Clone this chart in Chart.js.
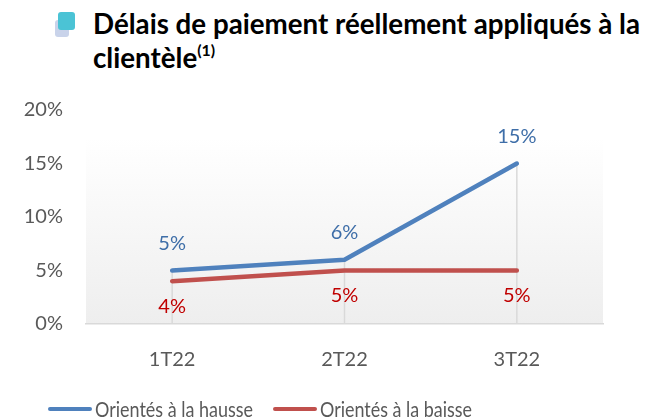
<!DOCTYPE html>
<html>
<head>
<meta charset="utf-8">
<script src="https://cdn.jsdelivr.net/npm/chart.js@4/dist/chart.umd.min.js"></script>
<style>
  body { margin: 0; background: #fff; }
  #wrap { position: relative; width: 645px; height: 417px; overflow: hidden; }
  #myChart { position: absolute; left: 0; top: 0; }
  .title { position: absolute; left: 93px; top: 6px; font-family: Lato, sans-serif;
           font-weight: bold; font-size: 28px; line-height: 34px; color: #000; white-space: nowrap; }
  .title span { display: inline-block; transform-origin: 0 50%; }
  .title sup { font-size: 16px; line-height: 0; vertical-align: 12px; }
  .icon-back { position: absolute; left: 55px; top: 20px; width: 14px; height: 17px; background: #c9d3ea; border-radius: 3px; }
  .icon { position: absolute; left: 58px; top: 12px; width: 17px; height: 18px; background: #4bc3d5; border-radius: 3px; }
  .legend { position: absolute; top: 396px; left: 48px; font-family: Lato, sans-serif;
            font-size: 21px; color: #595959; white-space: nowrap; }
  .legend .item { position: absolute; top: 0; display: flex; align-items: center; }
  .legend .swatch { width: 44px; height: 4px; border-radius: 2px; margin-right: 3px; }
  .legend .txt { display: inline-block; transform-origin: 0 50%; }
</style>
</head>
<body>
<div id="wrap">
  <div class="icon-back"></div>
  <div class="icon"></div>
  <div class="title"><span id="t1">Délais de paiement réellement appliqués à la</span><br><span>clientèle<sup>(1)</sup></span></div>
  <canvas id="myChart" width="645" height="417"></canvas>
  <div class="legend" id="legend"></div>
</div>
<script>
const quarters = ['1T22', '2T22', '3T22'];
const hausse = [5, 6, 15];
const baisse = [4, 5, 5];
const seriesNames = ['Orientés à la hausse', 'Orientés à la baisse'];
const yMin = 0, yMax = 20, yStep = 5;

const fontFamily = 'Lato, sans-serif';

// squeeze the title a bit, the original font is narrower
const t1 = document.getElementById('t1');
const sx = 547 / t1.getBoundingClientRect().width;
document.querySelectorAll('.title span').forEach(s => s.style.transform = 'scaleX(' + sx + ')');

// plot background, light grey fading to white at the top
const bgPlugin = {
  id: 'bg',
  beforeDraw(chart) {
    const a = chart.chartArea, c = chart.ctx;
    const g = c.createLinearGradient(0, a.top, 0, a.bottom);
    g.addColorStop(0, '#ffffff');
    g.addColorStop(0.13, '#ffffff');
    g.addColorStop(1, '#eeeeee');
    c.save();
    c.fillStyle = g;
    c.fillRect(a.left, a.top, a.right - a.left, a.bottom - a.top);
    c.restore();
  }
};

// excel style drop lines from highest point down to the axis
const dropLines = {
  id: 'dropLines',
  beforeDatasetsDraw(chart) {
    const c = chart.ctx, x = chart.scales.x, y = chart.scales.y;
    c.save();
    c.strokeStyle = '#d9d9d9';
    c.lineWidth = 1.5;
    quarters.forEach((q, i) => {
      const top = Math.max(...chart.data.datasets.map(d => d.data[i]));
      const px = x.getPixelForValue(i);
      c.beginPath();
      c.moveTo(px, y.getPixelForValue(top));
      c.lineTo(px, y.bottom);
      c.stroke();
    });
    c.restore();
  }
};

// value labels, above for first series, below for second
const valueLabels = {
  id: 'valueLabels',
  afterDatasetsDraw(chart) {
    const c = chart.ctx;
    c.save();
    c.font = '20px ' + fontFamily;
    c.textAlign = 'center';
    c.textBaseline = 'middle';
    chart.data.datasets.forEach((ds, di) => {
      const meta = chart.getDatasetMeta(di);
      c.fillStyle = ds.labelColor;
      meta.data.forEach((pt, i) => {
        c.fillText(ds.data[i] + '%', pt.x, pt.y + ds.labelOffset);
      });
    });
    c.restore();
  }
};

const ctx = document.getElementById('myChart').getContext('2d');

const chart = new Chart(ctx, {
  type: 'line',
  data: {
    labels: quarters,
    datasets: [{
      label: seriesNames[0],
      data: hausse,
      borderColor: '#4f81bd',
      backgroundColor: '#4f81bd',
      labelColor: '#3e6ea8',
      labelOffset: -27,
      borderWidth: 4.5,
      borderCapStyle: 'round',
      borderJoinStyle: 'round',
      pointRadius: 0,
      tension: 0
    }, {
      label: seriesNames[1],
      data: baisse,
      borderColor: '#c0504d',
      backgroundColor: '#c0504d',
      labelColor: '#c00000',
      labelOffset: 25,
      borderWidth: 4.5,
      borderCapStyle: 'round',
      borderJoinStyle: 'round',
      pointRadius: 0,
      tension: 0
    }]
  },
  options: {
    responsive: false,
    animation: false,
    layout: { padding: { top: 110, right: 42, bottom: 43, left: 0 } },
    plugins: {
      legend: { display: false },
      tooltip: { enabled: false }
    },
    scales: {
      x: {
        offset: true,
        grid: { display: false },
        border: { color: '#d9d9d9', width: 1.5 },
        ticks: { color: '#595959', font: { family: fontFamily, size: 20 }, padding: 16 },
        afterFit: s => { s.height = 50; }
      },
      y: {
        min: yMin,
        max: yMax,
        grid: { display: false, drawTicks: false },
        border: { display: false },
        ticks: { stepSize: yStep, color: '#595959', font: { family: fontFamily, size: 20 }, padding: 23,
                 callback: v => v + '%' },
        afterFit: s => { s.width = 86; }
      }
    }
  },
  plugins: [bgPlugin, dropLines, valueLabels]
});

// html legend built from the datasets, items placed like the original
const legendEl = document.getElementById('legend');
const legendX = [0, 225];
const legendTextW = [158, 152];
chart.data.datasets.forEach((ds, i) => {
  const item = document.createElement('div');
  item.className = 'item';
  item.style.left = legendX[i] + 'px';
  item.innerHTML = '<span class="swatch" style="background:' + ds.borderColor + '"></span><span class="txt">' + ds.label + '</span>';
  legendEl.appendChild(item);
  const txt = item.querySelector('.txt');
  txt.style.transform = 'scaleX(' + (legendTextW[i] / txt.getBoundingClientRect().width) + ')';
});
</script>
</body>
</html>
